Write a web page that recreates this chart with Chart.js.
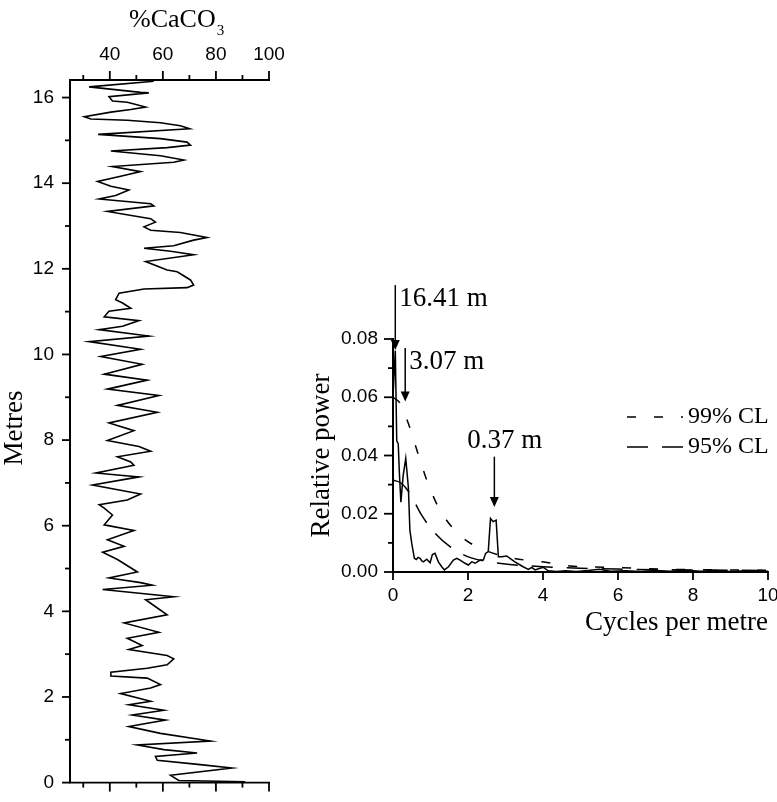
<!DOCTYPE html>
<html>
<head>
<meta charset="utf-8">
<script src="https://cdn.jsdelivr.net/npm/chart.js@4.4.1/dist/chart.umd.min.js"></script>
<style>
  body { margin: 0; background: #fff; width: 777px; height: 802px; position: relative; overflow: hidden; }
  #profileWrap { position: absolute; left: 0; top: 0; }
  #spectrumWrap { position: absolute; left: 300px; top: 270px; }
</style>
</head>
<body>
<div id="profileWrap"><canvas id="profileChart" width="300" height="802"></canvas></div>
<div id="spectrumWrap"><canvas id="spectrumChart" width="490" height="370"></canvas></div>
<script>
// --- %CaCO3 profile (read top to bottom) ---
const depth = [16.38, 16.25, 16.12, 16.11, 16.02, 15.92, 15.89, 15.78, 15.72, 15.66, 15.55, 15.50, 15.47, 15.41, 15.34, 15.27,
  15.14, 15.04, 14.96, 14.89, 14.83, 14.75, 14.64, 14.54, 14.49, 14.39, 14.27, 14.16, 14.04, 13.93, 13.84, 13.71, 13.63,
  13.52, 13.47, 13.34, 13.17, 13.09, 12.98, 12.90, 12.85, 12.73, 12.67, 12.54, 12.48, 12.41, 12.33, 12.17, 11.97, 11.93,
  11.74, 11.62, 11.56, 11.53, 11.43, 11.28, 11.20, 11.08, 11.01, 10.88, 10.79, 10.66, 10.58, 10.43, 10.30, 10.12, 9.95,
  9.77, 9.54, 9.40, 9.19, 9.04, 8.81, 8.65, 8.40, 8.22, 7.99, 7.85, 7.74, 7.61, 7.49, 7.41, 7.23, 7.14, 6.95, 6.74, 6.60,
  6.49, 6.41, 6.25, 6.02, 5.89, 5.67, 5.52, 5.38, 5.21, 4.92, 4.78, 4.67, 4.61, 4.51, 4.34, 4.27, 3.92, 3.73, 3.51, 3.37,
  3.20, 3.11, 2.97, 2.89, 2.75, 2.67, 2.58, 2.49, 2.44, 2.29, 2.21, 2.08, 1.90, 1.82, 1.69, 1.58, 1.46, 1.31, 1.15, 0.97,
  0.88, 0.77, 0.69, 0.61, 0.52, 0.42, 0.34, 0.17, 0.05, 0.02];
const caco3 = [56.6, 32.2, 51.6, 54.7, 39.7, 41.0, 46.6, 53.5, 47.9, 40.4, 30.4, 32.9, 46.6, 59.1, 66.6, 70.1,
  35.6, 59.1, 69.1, 70.4, 61.6, 40.4, 59.1, 67.9, 64.1, 41.0, 51.6, 44.1, 35.4, 40.4, 47.2, 42.2, 36.0,
  55.4, 56.6, 39.1, 55.4, 57.2, 52.9, 55.4, 66.6, 76.6, 71.6, 64.1, 52.9, 62.9, 71.6, 53.5, 61.6, 65.4,
  70.4, 71.6, 69.1, 52.9, 43.5, 42.2, 44.8, 47.9, 39.7, 37.9, 51.0, 44.8, 36.0, 54.7, 32.2, 51.6, 36.6,
  52.2, 37.9, 54.1, 39.1, 58.5, 42.9, 57.9, 39.7, 49.1, 39.1, 51.0, 55.4, 42.9, 47.9, 49.1, 34.8, 51.0, 33.5, 51.6, 46.6,
  36.0, 37.9, 41.0, 37.9, 49.1, 39.1, 45.4, 37.3, 42.9, 50.4, 39.7, 51.6, 56.0, 37.3, 64.1, 53.5, 61.6, 45.4, 58.5, 46.6,
  52.2, 47.2, 61.6, 64.1, 61.6, 54.1, 40.4, 40.4, 54.1, 59.1, 55.4, 44.1, 55.4, 47.2, 60.4, 48.5, 61.0, 47.2, 59.1, 77.9,
  50.4, 60.4, 72.9, 57.2, 57.9, 74.1, 86.0, 62.9, 66.0, 91.0];
const caco3Ticks = [40, 60, 80, 100];
const caco3Minor = [30, 50, 70, 90];
const depthTicks = [0, 2, 4, 6, 8, 10, 12, 14, 16];
const depthMinor = [1, 3, 5, 7, 9, 11, 13, 15];

// --- power spectrum ---
const freq = [0, 0.061, 0.1, 0.14, 0.17, 0.21, 0.27, 0.34, 0.41, 0.45, 0.5, 0.57, 0.62, 0.67, 0.72, 0.77, 0.81, 0.9, 0.99,
  1.05, 1.12, 1.21, 1.3, 1.37, 1.48, 1.61, 1.7, 1.79, 1.92, 2.01, 2.1, 2.19, 2.32, 2.41, 2.47, 2.54, 2.6, 2.67, 2.75,
  2.81, 2.9, 3.03, 3.12, 3.25, 3.39, 3.47, 3.61, 3.7, 3.79, 3.9, 4.01, 4.14, 4.36, 4.6, 4.9, 5.2, 5.5, 5.8, 6.2, 6.6,
  7.0, 7.4, 7.8, 8.2, 8.6, 9.0, 9.4, 9.8, 10];
const power = [0.060, 0.076, 0.045, 0.044, 0.034, 0.024, 0.033, 0.039, 0.029, 0.0144, 0.0098, 0.0047, 0.0043, 0.0050, 0.0047,
  0.0038, 0.0035, 0.0044, 0.0032, 0.0060, 0.0064, 0.0035, 0.0018, 0.0007, 0.0018, 0.0041, 0.0047, 0.0041, 0.0030, 0.0024,
  0.0035, 0.0030, 0.0041, 0.0041, 0.0064, 0.0070, 0.0184, 0.0173, 0.0178, 0.0052, 0.0052, 0.0055, 0.0047, 0.0035, 0.0024,
  0.0018, 0.0009, 0.0016, 0.0007, 0.0012, 0.0016, 0.0004, 0.0002, 0.0004, 0.0002, 0.0005, 0.0009, 0.0003, 0.0004, 0.0002,
  0.0005, 0.0003, 0.0006, 0.0003, 0.0005, 0.0002, 0.0004, 0.0003, 0.0003];
const cl99Freq = [0, 0.19, 0.41, 0.68, 0.9, 1.25, 1.83, 2.45, 3.21, 3.97, 4.72, 5.39, 6.13, 6.85, 7.56, 8.27, 8.99, 9.7, 10];
const cl99 = [0.060, 0.0579, 0.051, 0.0401, 0.0316, 0.0213, 0.0121, 0.0075, 0.0047, 0.0035, 0.0021, 0.0017, 0.0015, 0.0011,
  0.0009, 0.0008, 0.0007, 0.0006, 0.0006];
const cl95Freq = [0, 0.23, 0.45, 0.76, 1.12, 1.52, 2.01, 2.5, 2.94, 3.5, 4, 5, 6, 7, 8, 9, 10];
const cl95 = [0.0316, 0.0304, 0.027, 0.0196, 0.0133, 0.0087, 0.0052, 0.0036, 0.0028, 0.0022, 0.0018, 0.0013, 0.0010,
  0.0008, 0.0007, 0.0006, 0.0005];
const freqTicks = [0, 2, 4, 6, 8, 10];
const powerTicks = [0, 0.02, 0.04, 0.06, 0.08];
const powerMinor = [0.01, 0.03, 0.05, 0.07];
// labelled peaks: period in metres, arrow from tail to tip (relative power)
const peakPeriods = [16.41, 3.07, 0.37];
const peakLabels = ['16.41 m', '3.07 m', '0.37 m'];
const arrowTail = [0.0985, 0.0769, 0.0396];
const arrowTip = [0.0762, 0.0585, 0.0223];

const serif = '"Liberation Serif", "Times New Roman", serif';
const sans = '"Liberation Sans", Arial, sans-serif';

function toPoints(xs, ys) {
  return xs.map((x, i) => ({ x: x, y: ys[i] }));
}

function tickLine(ctx, x1, y1, x2, y2) {
  ctx.beginPath();
  ctx.moveTo(x1, y1);
  ctx.lineTo(x2, y2);
  ctx.stroke();
}

// ticks, mirror axis and titles for the profile
const profileDecor = {
  id: 'profileDecor',
  afterDraw(chart) {
    const ctx = chart.ctx, a = chart.chartArea;
    const xs = chart.scales.x, ys = chart.scales.y;
    ctx.save();
    ctx.strokeStyle = '#000';
    ctx.lineWidth = 1.8;
    tickLine(ctx, a.left - 1, a.bottom, a.right + 1, a.bottom);
    caco3Ticks.forEach(v => {
      const x = xs.getPixelForValue(v);
      tickLine(ctx, x, a.top, x, a.top - 9);
      tickLine(ctx, x, a.bottom, x, a.bottom + 9);
    });
    caco3Minor.forEach(v => {
      const x = xs.getPixelForValue(v);
      tickLine(ctx, x, a.top, x, a.top - 5);
      tickLine(ctx, x, a.bottom, x, a.bottom + 5);
    });
    depthTicks.forEach(v => {
      const y = ys.getPixelForValue(v);
      tickLine(ctx, a.left, y, a.left - 8, y);
    });
    depthMinor.forEach(v => {
      const y = ys.getPixelForValue(v);
      tickLine(ctx, a.left, y, a.left - 5, y);
    });
    ctx.fillStyle = '#000';
    ctx.textBaseline = 'alphabetic';
    ctx.textAlign = 'left';
    ctx.font = '26px ' + serif;
    ctx.fillText('%CaCO', 129, 27);
    const w = ctx.measureText('%CaCO').width;
    ctx.font = '15px ' + serif;
    ctx.fillText('3', 129 + w + 1, 35);
    ctx.translate(22, 428);
    ctx.rotate(-Math.PI / 2);
    ctx.textAlign = 'center';
    ctx.font = '27px ' + serif;
    ctx.fillText('Metres', 0, 0);
    ctx.restore();
  }
};

// ticks, titles, peak arrows and legend for the spectrum
const spectrumDecor = {
  id: 'spectrumDecor',
  afterDraw(chart) {
    const ctx = chart.ctx, a = chart.chartArea;
    const xs = chart.scales.x, ys = chart.scales.y;
    ctx.save();
    ctx.strokeStyle = '#000';
    ctx.fillStyle = '#000';
    ctx.lineWidth = 1.8;
    freqTicks.forEach(v => {
      const x = xs.getPixelForValue(v);
      tickLine(ctx, x, a.bottom, x, a.bottom + 8);
    });
    powerTicks.forEach(v => {
      const y = ys.getPixelForValue(v);
      tickLine(ctx, a.left, y, a.left - 9, y);
    });
    powerMinor.forEach(v => {
      const y = ys.getPixelForValue(v);
      tickLine(ctx, a.left, y, a.left - 5, y);
    });

    // arrows
    ctx.lineWidth = 1.5;
    ctx.font = '27px ' + serif;
    peakPeriods.forEach((p, i) => {
      const x = xs.getPixelForValue(1 / p);
      const yT = ys.getPixelForValue(arrowTail[i]);
      const yH = ys.getPixelForValue(arrowTip[i]);
      tickLine(ctx, x, yT, x, yH - 8);
      ctx.beginPath();
      ctx.moveTo(x - 4.5, yH - 10);
      ctx.lineTo(x + 4.5, yH - 10);
      ctx.lineTo(x, yH);
      ctx.closePath();
      ctx.fill();
      ctx.textAlign = 'left';
      if (i < 2) {
        ctx.fillText(peakLabels[i], x + 4, yT + 21);
      } else {
        ctx.fillText(peakLabels[i], x - 27, yT - 9);
      }
    });

    // legend
    const lx = a.left + 234, ly1 = a.top + 78, ly2 = a.top + 108;
    ctx.lineWidth = 1.5;
    ctx.setLineDash([9, 18]);
    tickLine(ctx, lx, ly1, lx + 56, ly1);
    ctx.setLineDash([21, 14]);
    tickLine(ctx, lx, ly2, lx + 56, ly2);
    ctx.setLineDash([]);
    ctx.font = '24px ' + serif;
    ctx.textBaseline = 'middle';
    ctx.fillText('99% CL', lx + 61, ly1);
    ctx.fillText('95% CL', lx + 61, ly2);

    // axis titles
    ctx.textBaseline = 'alphabetic';
    ctx.font = '27px ' + serif;
    ctx.textAlign = 'right';
    ctx.fillText('Cycles per metre', a.right, a.bottom + 58);
    ctx.translate(a.left - 64, (a.top + a.bottom) / 2);
    ctx.rotate(-Math.PI / 2);
    ctx.textAlign = 'center';
    ctx.fillText('Relative power', 0, 0);
    ctx.restore();
  }
};

function tickSetter(list) {
  return function (scale) { scale.ticks = list.map(v => ({ value: v })); };
}

new Chart(document.getElementById('profileChart').getContext('2d'), {
  type: 'scatter',
  data: {
    datasets: [{
      data: toPoints(caco3, depth),
      showLine: true,
      borderColor: '#000',
      borderWidth: 1.6,
      pointRadius: 0,
      tension: 0
    }]
  },
  options: {
    responsive: false,
    animation: false,
    layout: { padding: { left: 0, top: 0, right: 31, bottom: 14 } },
    plugins: { legend: { display: false }, tooltip: { enabled: false } },
    scales: {
      x: {
        type: 'linear', position: 'top', min: 25, max: 100,
        afterBuildTicks: tickSetter(caco3Ticks),
        afterFit: s => { s.height = 80; },
        grid: { display: true, drawOnChartArea: false, color: 'rgba(0,0,0,0)', tickLength: 9 },
        border: { display: true, color: '#000', width: 2 },
        ticks: { color: '#000', font: { family: sans, size: 19 }, padding: 5, maxRotation: 0 }
      },
      y: {
        type: 'linear', min: 0, max: 16.41,
        afterBuildTicks: tickSetter(depthTicks),
        afterFit: s => { s.width = 70; },
        grid: { display: true, drawOnChartArea: false, color: 'rgba(0,0,0,0)', tickLength: 8 },
        border: { display: true, color: '#000', width: 2 },
        ticks: { color: '#000', font: { family: sans, size: 19 }, padding: 8 }
      }
    }
  },
  plugins: [profileDecor]
});

new Chart(document.getElementById('spectrumChart').getContext('2d'), {
  type: 'scatter',
  data: {
    datasets: [
      {
        label: 'Spectrum',
        data: toPoints(freq, power),
        showLine: true, borderColor: '#000', borderWidth: 1.5, pointRadius: 0, tension: 0
      },
      {
        label: '99% CL',
        data: toPoints(cl99Freq, cl99),
        showLine: true, borderColor: '#000', borderWidth: 1.5, pointRadius: 0,
        cubicInterpolationMode: 'monotone', borderDash: [9, 18]
      },
      {
        label: '95% CL',
        data: toPoints(cl95Freq, cl95),
        showLine: true, borderColor: '#000', borderWidth: 1.5, pointRadius: 0,
        cubicInterpolationMode: 'monotone', borderDash: [21, 14]
      }
    ]
  },
  options: {
    responsive: false,
    animation: false,
    layout: { padding: { left: 0, top: 69, right: 22, bottom: 0 } },
    plugins: { legend: { display: false }, tooltip: { enabled: false } },
    scales: {
      x: {
        type: 'linear', min: 0, max: 10,
        afterBuildTicks: tickSetter(freqTicks),
        afterFit: s => { s.height = 68; },
        grid: { display: true, drawOnChartArea: false, color: 'rgba(0,0,0,0)', tickLength: 8 },
        border: { display: true, color: '#000', width: 2 },
        ticks: { color: '#000', font: { family: sans, size: 19 }, padding: 4, maxRotation: 0 }
      },
      y: {
        type: 'linear', min: 0, max: 0.08,
        afterBuildTicks: tickSetter(powerTicks),
        afterFit: s => { s.width = 93; },
        grid: { display: true, drawOnChartArea: false, color: 'rgba(0,0,0,0)', tickLength: 9 },
        border: { display: true, color: '#000', width: 2 },
        ticks: { color: '#000', font: { family: sans, size: 19 }, padding: 6,
          callback: v => v.toFixed(2) }
      }
    }
  },
  plugins: [spectrumDecor]
});
</script>
</body>
</html>
